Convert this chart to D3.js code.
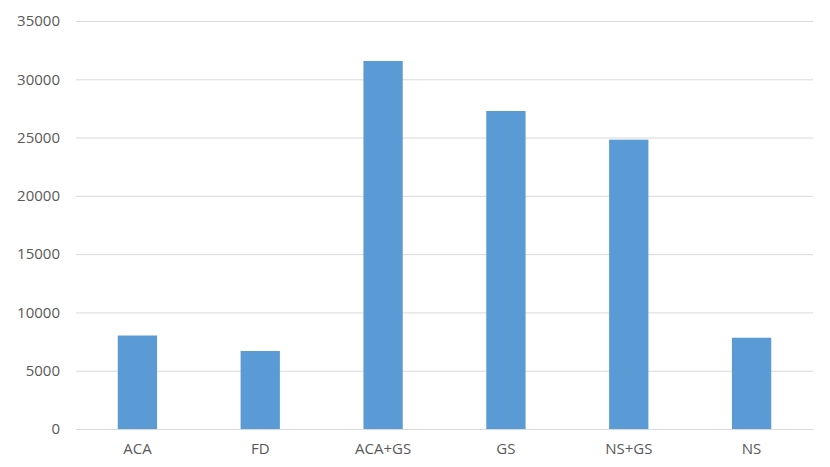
<!DOCTYPE html>
<html>
<head>
<meta charset="utf-8">
<script src="https://cdn.jsdelivr.net/npm/d3@7"></script>
<style>
  body { margin: 0; background: #fff; }
  text { font-family: "Open Sans", sans-serif; fill: #595959; }
</style>
</head>
<body>
<div id="chart"></div>
<script>
var categories = ["ACA", "FD", "ACA+GS", "GS", "NS+GS", "NS"];
var values = [8020, 6690, 31570, 27280, 24820, 7830];
var yTicks = [0, 5000, 10000, 15000, 20000, 25000, 30000, 35000];

var width = 830, height = 467;
var margin = { top: 21, right: 17, bottom: 38, left: 76 };

var svg = d3.select("#chart").append("svg")
	.attr("width", width)
	.attr("height", height);

var x = d3.scaleBand()
	.domain(categories)
	.range([margin.left, width - margin.right])
	.paddingInner(0.68)
	.paddingOuter(0.34);

var y = d3.scaleLinear()
	.domain([0, 35000])
	.range([height - margin.bottom, margin.top]);

// gridlines + y labels
var yAxis = g => g
	.attr("transform", `translate(${margin.left},0)`)
	.call(d3.axisLeft(y).tickValues(yTicks).tickFormat(d3.format("d"))
		.tickSize(-(width - margin.left - margin.right)).tickPadding(16))
	.call(g => g.select(".domain").remove())
	.call(g => g.selectAll(".tick line").attr("stroke", "#d9d9d9"))
	.call(g => g.selectAll(".tick text").attr("font-size", 15).attr("fill", "#595959"));

svg.append("g").call(yAxis);

svg.append("g")
	.attr("fill", "#5b9bd5")
	.selectAll("rect")
	.data(values)
	.join("rect")
	.attr("x", (d, i) => x(categories[i]))
	.attr("y", d => y(d))
	.attr("width", x.bandwidth())
	.attr("height", d => y(0) - y(d));

var xAxis = g => g
	.attr("transform", `translate(0,${y(0)})`)
	.call(d3.axisBottom(x).tickSize(0).tickPadding(14))
	.call(g => g.select(".domain").attr("stroke", "#d9d9d9"))
	.call(g => g.selectAll(".tick text").attr("font-size", 15).attr("fill", "#595959"));

svg.append("g").call(xAxis);
</script>
</body>
</html>
